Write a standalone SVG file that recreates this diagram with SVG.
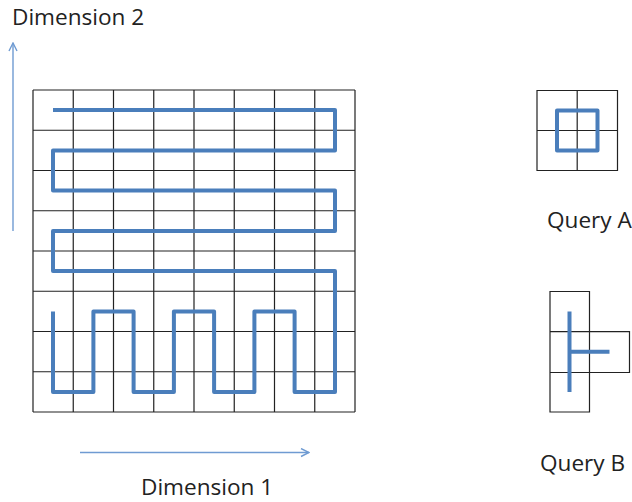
<svg xmlns="http://www.w3.org/2000/svg" width="632" height="502" viewBox="0 0 632 502">
<defs>
<style>
.grid{fill:none;stroke:#222;stroke-width:1.2}
.path{fill:none;stroke:#4a7ebb;stroke-width:4;stroke-linejoin:round;stroke-linecap:butt}
.axis{fill:none;stroke:#6f9bd2;stroke-width:1.4}
.lbl{font-family:"Open Sans","Liberation Sans",sans-serif;font-size:22.6px;fill:#222}
</style>
<marker id="arr" viewBox="0 0 10 10" refX="9" refY="5" markerWidth="10" markerHeight="10" markerUnits="userSpaceOnUse" orient="auto">
<path d="M1,1 L9,5 L1,9" fill="none" stroke="#6f9bd2" stroke-width="1.4"/>
</marker>
</defs>
<rect width="632" height="502" fill="#fff"/>

<g id="main-grid">
<path class="grid" d="M33,90H355M33,130.25H355M33,170.5H355M33,210.75H355M33,251H355M33,291.25H355M33,331.5H355M33,371.75H355M33,412H355
M33,90V412M73.25,90V412M113.5,90V412M153.75,90V412M194,90V412M234.25,90V412M274.5,90V412M314.75,90V412M355,90V412"/>
<path class="path" d="M53,110H335V150.4H53V190.6H335V230.9H53V271.1H335V392H294.6V311.5H254.4V392H214.1V311.5H173.9V392H133.6V311.5H93.4V392H53V311.5"/>
</g>

<g id="connectors">
<line class="axis" x1="13" y1="231" x2="13" y2="43" marker-end="url(#arr)"/>
<line class="axis" x1="80" y1="452.5" x2="309" y2="452.5" marker-end="url(#arr)"/>
</g>

<g id="query-a">
<path class="grid" d="M537,90.5H617.5V170.5H537Z M577.2,90.5V170.5 M537,130.5H617.5"/>
<rect class="path" x="557" y="110.5" width="40.5" height="40"/>
</g>

<g id="query-b">
<path class="grid" d="M550,291.5H589.5V412H550Z M550,331.7H629.5V372.5H550 M589.5,331.7V372.5"/>
<path class="path" d="M569.5,311.5V392M569.5,351.7H609.5"/>
</g>

<g id="labels">
<text class="lbl" x="12" y="25">Dimension 2</text>
<text class="lbl" x="141" y="495">Dimension 1</text>
<text class="lbl" x="547" y="228">Query A</text>
<text class="lbl" x="540" y="471">Query B</text>
</g>
</svg>
